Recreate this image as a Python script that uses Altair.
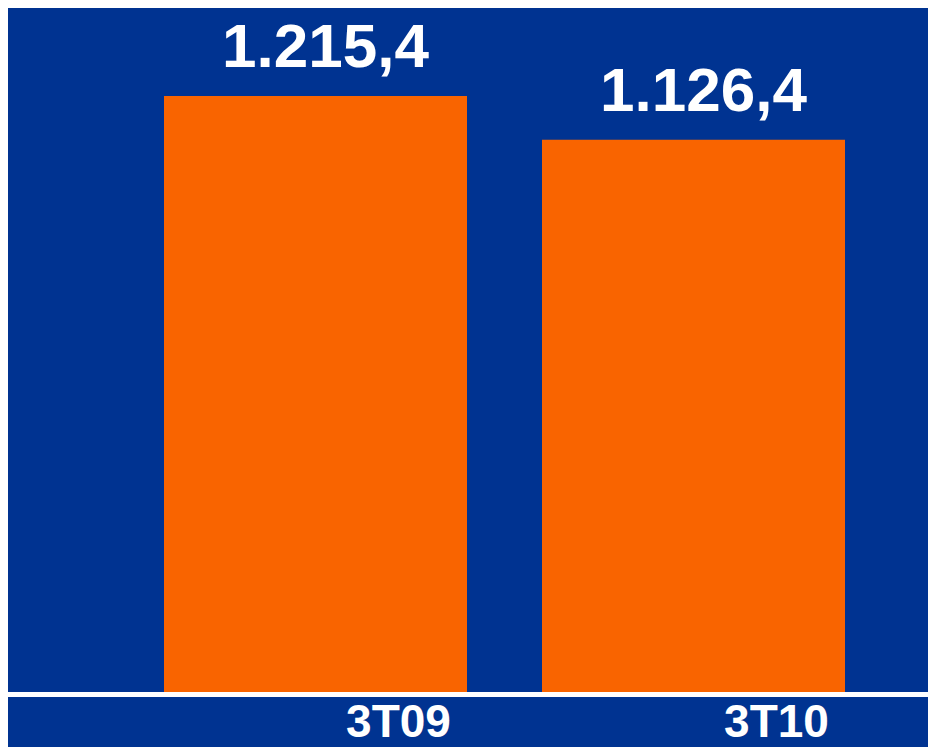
import altair as alt
import pandas as pd

categories = ["3T09", "3T10"]
values = [1215.4, 1126.4]
value_labels = ["1.215,4", "1.126,4"]

df = pd.DataFrame({"cat": categories, "val": values, "lbl": value_labels})

BLUE = "#003391"
ORANGE = "#F96400"
YDOM = [0, 1395]

x = alt.X("cat:N", sort=categories,
          scale=alt.Scale(range=[156, 837], paddingInner=0.1984, paddingOuter=0),
          axis=alt.Axis(title=None, domain=False, ticks=False, labelAngle=0,
                        labelColor="white", labelFont="Liberation Sans",
                        labelFontWeight="bold", labelFontSize=46,
                        labelOffset=83, labelPadding=8, labelBaseline="top"))
y = alt.Y("val:Q", scale=alt.Scale(domain=YDOM, nice=False), axis=None)

bars = alt.Chart(df).mark_bar(color=ORANGE).encode(x=x, y=y)

text = alt.Chart(df).mark_text(color="white", font="Liberation Sans",
                               fontWeight="bold", fontSize=62,
                               baseline="alphabetic", dy=-29, dx=10).encode(
    x=x, y=y, text="lbl:N")

base = alt.Chart(pd.DataFrame({"z": [0]})).mark_rule(
    color="white", strokeWidth=5, yOffset=2.5).encode(
    x=alt.value(0), x2=alt.value(920),
    y=alt.Y("z:Q", scale=alt.Scale(domain=YDOM, nice=False), axis=None))

chart = alt.layer(bars, text, base).properties(
    width=920, height=684,
    background=BLUE,
    padding={"left": 0, "top": 0, "right": 0, "bottom": 55},
    autosize=alt.AutoSizeParams(type="none"),
).configure_view(stroke=None)

chart.save("out.html", embed_options={"renderer": "svg", "actions": False})
